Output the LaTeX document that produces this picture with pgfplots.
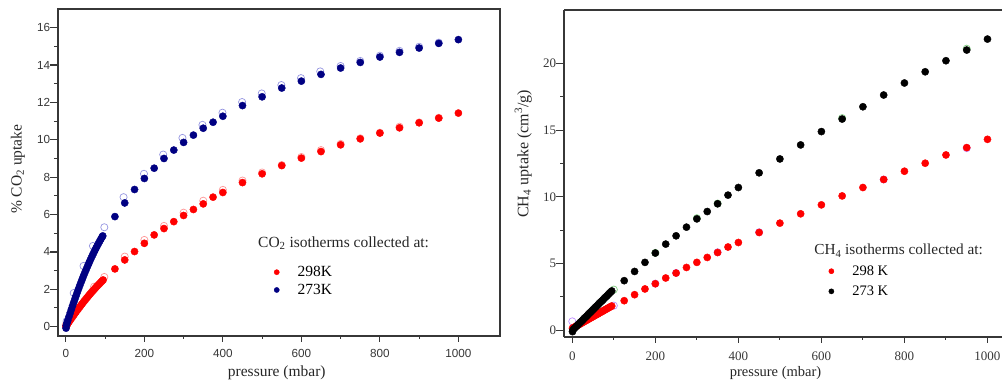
\documentclass[border=0pt]{standalone}
\usepackage{pgfplots}
\pgfplotsset{compat=1.18}
\usepackage{fontspec}
\setmainfont{Liberation Serif}
\newfontfamily\arialf{Liberation Sans}
\definecolor{navyb}{RGB}{0,0,130}
\definecolor{openblue}{RGB}{150,150,225}
\definecolor{openred}{RGB}{255,150,150}
\definecolor{openpurple}{RGB}{190,140,255}
\definecolor{opengreen}{RGB}{130,205,130}
\definecolor{axgray}{RGB}{55,55,55}
\begin{document}
\begin{tikzpicture}
\pgfplotsset{
  common/.style={
    scale only axis,
    axis line style={line width=1.5pt, draw=axgray, -},
    tick align=outside,
    xtick pos=bottom, ytick pos=left,
    major tick style={line width=1.2pt, draw=axgray},
    minor tick style={line width=1.0pt, draw=axgray},
    minor tick num=1,
    /pgf/number format/1000 sep={},
    /pgf/number format/assume math mode=true,
    x tick style={/pgfplots/major tick length=6pt},
    x tick style={/pgfplots/minor tick length=3pt},
    y tick style={/pgfplots/major tick length=8pt},
    y tick style={/pgfplots/minor tick length=4pt},
    label style={font=\fontsize{15.5}{17}\selectfont, text=black!85},
    legend cell align=left,
    legend image code/.code={%
      \path[draw=none, fill=none] (-4pt,0pt) -- (19pt,0pt);
      \draw[#1, only marks, mark size=2.6pt] plot coordinates {(0pt,0pt)};},
  },
  dense/.style={only marks, mark=*, mark size=3.6pt},
  openm/.style={only marks, mark=o, mark size=3.6pt, mark options={line width=0.7pt}},
}
% ---------------- left panel ----------------
\begin{axis}[common,
  at={(58pt,51pt)}, anchor=south west,
  width=442pt, height=327pt,
  xmin=-20, xmax=1106, ymin=-0.5, ymax=17,
  xtick={0,200,...,1000}, ytick={0,2,...,16},
  ticklabel style={font=\arialf\fontsize{11.7}{13}\selectfont, text=axgray},
  xticklabel style={yshift=-6pt},
  xlabel={pressure (mbar)}, ylabel={\% CO\textsubscript{2} uptake},
  xlabel style={at={(axis description cs:0.495,-0.112)}, anchor=center},
  ylabel style={at={(axis description cs:-0.0905,0.51)}, anchor=center, rotate=0},
  legend style={draw=none, fill=none, at={(axis description cs:0.4786,0.226)}, anchor=north west,
    font=\fontsize{15.5}{17}\selectfont, row sep=2pt},
]
% desorption (open)
\addplot[openm, color=openred, forget plot] coordinates {
(0,0.1) (72,2.14) (98,2.66) (150,3.75) (200,4.64) (250,5.39) (300,6.1) (350,6.74) (400,7.32) (450,7.82) (500,8.25) (550,8.65) (600,9.08) (650,9.45) (700,9.78) (750,10.08) (800,10.38) (850,10.7) (900,10.93) (950,11.18)};
\addplot[openm, color=openblue, forget plot] coordinates {
(2,0.3) (20,1.8) (45,3.25) (69,4.32) (98,5.32) (147,6.93) (199,8.18) (248,9.21) (297,10.1) (348,10.8) (399,11.45) (449,12.02) (499,12.48) (549,12.93) (599,13.3) (648,13.66) (700,13.95) (750,14.22) (800,14.5) (850,14.76) (900,14.98) (950,15.2)};
% adsorption 298K
\addplot[dense, color=red, mark options={fill=red}] coordinates {
(0.5,0.0) (1,0.032) (3,0.095) (5,0.158) (8,0.252) (11,0.345) (14,0.436) (17,0.527) (20,0.616) (23,0.704) (26,0.791) (29,0.878) (32,0.963) (35,1.047) (38,1.130) (41,1.211) (44,1.292) (47,1.371) (50,1.45) (53,1.527) (56,1.604) (59,1.679) (62,1.753) (65,1.827) (68,1.899) (71,1.970) (74,2.039) (77,2.108) (80,2.176) (83,2.243) (86,2.308) (89,2.373) (92,2.436) (95,2.498)
(125,3.09) (150,3.57) (175,4.02) (200,4.46) (225,4.91) (250,5.25) (275,5.62) (300,5.95) (325,6.27) (350,6.57) (375,6.93) (400,7.18) (450,7.71) (500,8.18) (550,8.62) (600,9.02) (650,9.37) (700,9.73) (750,10.05) (800,10.36) (850,10.64) (900,10.91) (950,11.16) (1000,11.43)};
\addlegendentry{298K}
% adsorption 273K
\addplot[dense, color=navyb, mark options={fill=navyb}] coordinates {
(0.5,-0.08) (1,0.068) (3,0.203) (5,0.337) (8,0.534) (11,0.729) (14,0.920) (17,1.109) (20,1.294) (23,1.476) (26,1.654) (29,1.830) (32,2.002) (35,2.171) (38,2.338) (41,2.500) (44,2.660) (47,2.816) (50,2.97) (53,3.120) (56,3.267) (59,3.411) (62,3.552) (65,3.689) (68,3.824) (71,3.955) (74,4.083) (77,4.208) (80,4.330) (83,4.449) (86,4.563) (89,4.676) (92,4.784) (94,4.856)
(125,5.89) (150,6.62) (175,7.34) (200,7.93) (225,8.48) (250,9.0) (275,9.45) (300,9.86) (325,10.25) (350,10.62) (375,10.94) (400,11.26) (450,11.83) (500,12.30) (550,12.77) (600,13.14) (650,13.50) (700,13.84) (750,14.14) (800,14.43) (850,14.68) (900,14.91) (950,15.16) (1000,15.36)};
\addlegendentry{273K}
\node[anchor=west, font=\fontsize{15.5}{17}\selectfont, text=black!85, inner sep=0pt] at (axis description cs:0.4525,0.2844) {CO\textsubscript{2} isotherms collected at:};
\end{axis}
% ---------------- right panel ----------------
\begin{axis}[common,
  at={(564pt,50pt)}, anchor=south west,
  width=438pt, height=327pt,
  axis lines*=left,
  xmin=-20, xmax=1035, ymin=-0.5, ymax=24,
  xtick={0,200,...,1000}, ytick={0,5,...,20},
  ticklabel style={font=\fontsize{13}{14}\selectfont, text=axgray},
  xticklabel style={yshift=-7pt},
  xlabel={pressure (mbar)}, ylabel={CH\textsubscript{4} uptake (cm\textsuperscript{3}/g)},
  xlabel style={at={(axis description cs:0.483,-0.109)}, anchor=center, font=\fontsize{14.5}{16}\selectfont},
  ylabel style={at={(axis description cs:-0.093,0.56)}, anchor=center, rotate=0, font=\fontsize{16}{17}\selectfont},
  legend style={draw=none, fill=none, at={(axis description cs:0.594,0.231)}, anchor=north west,
    font=\fontsize{14.5}{16}\selectfont, row sep=5pt},
  clip=false,
]
\addplot[openm, color=openpurple, forget plot] coordinates {
(0,0.67) (100,1.85) (200,3.5) (250,4.3) (350,5.85) (450,7.35) (750,11.3) (950,13.65)};
\addplot[openm, color=opengreen, forget plot] coordinates {
(100,3.05) (200,5.8) (300,8.4) (350,9.5) (650,15.9) (950,21.1)};
\addplot[dense, color=red, mark options={fill=red}] coordinates {
(0.5,0.16) (2,0.185) (5,0.238) (8,0.291) (11,0.344) (14,0.396) (17,0.449) (20,0.502) (23,0.555) (26,0.608) (29,0.660) (32,0.713) (35,0.766) (38,0.819) (41,0.872) (44,0.924) (47,0.977) (50,1.03) (53,1.083) (56,1.136) (59,1.188) (62,1.241) (65,1.294) (68,1.347) (71,1.400) (74,1.452) (77,1.505) (80,1.558) (83,1.611) (86,1.664) (89,1.716) (92,1.769) (95,1.82)
(125,2.22) (150,2.67) (175,3.1) (200,3.49) (225,3.92) (250,4.29) (275,4.71) (300,5.09) (325,5.46) (350,5.83) (375,6.24) (400,6.58) (450,7.33) (500,8.03) (550,8.73) (600,9.4) (650,10.07) (700,10.7) (750,11.3) (800,11.92) (850,12.52) (900,13.14) (950,13.69) (1000,14.31)};
\addlegendentry{298 K}
\addplot[dense, color=black, mark options={fill=black}] coordinates {
(0.5,-0.1) (2,0.06) (5,0.15) (8,0.24) (11,0.34) (14,0.43) (17,0.52) (20,0.62) (23,0.71) (26,0.80) (29,0.90) (32,0.99) (35,1.08) (38,1.18) (41,1.27) (44,1.36) (47,1.46) (50,1.55) (53,1.64) (56,1.74) (59,1.83) (62,1.92) (65,2.02) (68,2.11) (71,2.20) (74,2.29) (77,2.39) (80,2.48) (83,2.57) (86,2.67) (89,2.76) (92,2.85) (95,2.95)
(125,3.72) (150,4.41) (175,5.09) (200,5.79) (225,6.46) (250,7.08) (275,7.73) (300,8.35) (325,8.9) (350,9.48) (375,10.13) (400,10.7) (450,11.8) (500,12.84) (550,13.89) (600,14.89) (650,15.83) (700,16.75) (750,17.63) (800,18.53) (850,19.37) (900,20.2) (950,21.0) (1000,21.82)};
\addlegendentry{273 K}
\node[anchor=west, font=\fontsize{15.3}{17}\selectfont, text=black!85, inner sep=0pt] at (axis description cs:0.571,0.264) {CH\textsubscript{4} isotherms collected at:};
\draw[line width=1.5pt, draw=axgray] (rel axis cs:0,1) -- (rel axis cs:1,1);
\end{axis}
\pgfresetboundingbox
\useasboundingbox (0pt,0pt) rectangle (1002pt,387pt);
\end{tikzpicture}
\end{document}
